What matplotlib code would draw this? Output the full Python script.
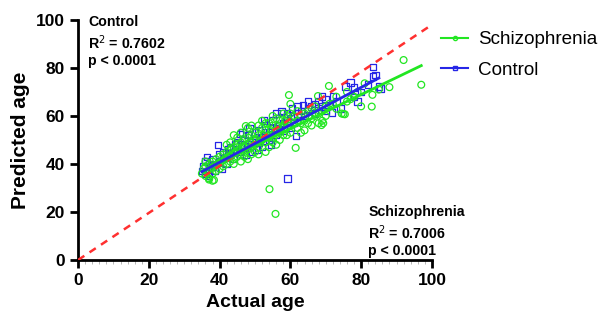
"""
    Predicted vs actual age, scatter with fit lines
"""
import matplotlib.pyplot as plt
import numpy as np

plt.rcParams['font.family'] = ['Liberation Sans', 'DejaVu Sans']

# schizophrenia points (actual, predicted)
scz_x = [35, 35.5, 36, 36, 36.5, 37, 37, 37.5, 38, 38, 38.5, 39, 39, 39.5, 40, 40, 40.5, 41, 41, 41.5,
         42, 42, 42.5, 37, 38, 36, 38.4,
         43, 43, 43.5, 44, 44, 44.5, 45, 45, 45.5, 46, 46, 46.5, 47, 47, 47.5, 48, 48, 48.5, 49, 49,
         49.5, 50, 50, 43, 45, 47, 49, 44, 46, 48, 50, 42, 44, 46, 48, 49, 45, 47, 43, 47.4,
         50.5, 51, 51, 51.5, 52, 52, 52.5, 53, 53, 53.5, 54, 54, 54.5, 55, 55, 55.5, 56, 56, 56.5,
         57, 57, 57.5, 58, 58, 58.5, 59, 59, 59.5, 60, 60, 51, 53, 54, 52, 55, 57, 58, 59, 60, 56,
         53, 55, 51, 54.1, 55.8, 59.6,
         61, 61, 62, 62, 62, 63, 63, 64, 64, 65, 65, 66, 66, 67, 67, 68, 69, 70, 70, 71, 61.5, 63,
         64, 66, 68, 69, 60, 67.8, 68.8, 69.3,
         70.9, 72, 73, 74.5, 75, 75.4, 76, 77, 78, 80, 81, 83, 83.2, 85, 88, 92, 97, 79, 73, 76]
scz_y = [36, 38, 35, 39, 37, 34, 40, 38, 36, 41, 39, 37, 42, 40, 38, 43, 41, 39, 44, 42,
         40, 45, 43, 33.5, 33, 41, 33.3,
         41, 46, 44, 42, 47, 45, 43, 48, 46, 44, 49, 47, 45, 50, 48, 46, 51, 49, 47, 52,
         50, 48, 53, 49, 51, 43, 44, 52, 53, 42, 45, 48, 40, 41, 55, 56, 47, 47, 43, 55.8,
         50, 47, 52, 49, 50, 55, 52, 49, 54, 51, 52, 57, 54, 51, 56, 53, 54, 59, 56,
         53, 58, 55, 56, 61, 58, 55, 60, 57, 56, 61, 44, 45, 47, 58, 60, 50, 52, 52, 53, 48,
         57, 49, 56, 29.5, 19.2, 68.7,
         57, 60, 55, 58, 62, 57, 60, 58, 61, 57, 62, 59, 63, 60, 64, 61, 62, 60, 64, 65, 46.7, 53,
         54, 56, 57, 58, 65, 68.3, 56.2, 57,
         72.5, 65, 63, 61, 60.8, 60.7, 66, 67, 68, 64, 73.6, 63.9, 68.8, 71, 72, 83.3, 73, 70, 68, 70]

# control points (actual, predicted)
ctl_x = [35, 35.5, 36, 36, 37, 37, 38, 38, 39, 39.5, 40, 40, 41, 41, 42, 42, 43, 43, 44, 44, 45, 45,
         45.8, 36.5, 38.5, 40.5, 42.5, 44.5, 37, 35.9,
         46, 46, 47, 47, 48, 48, 49, 49, 50, 50, 51, 51, 52, 52, 53, 53, 54, 54, 55, 55, 46.5, 48.5,
         50.5, 52.5, 54.5, 47.5,
         56.1, 56, 56, 57, 57, 58, 58, 59, 59, 60, 60, 61, 61, 61.6, 62, 62, 63, 63.6, 64, 65, 65,
         59.2, 57.5, 60.5,
         66, 67, 67, 68, 69, 70, 70, 71.8, 72, 73, 74.2, 75.6, 78, 78, 80, 82, 83.3, 83.3, 84, 85.5,
         85, 77, 79, 69]
ctl_y = [37, 39, 41, 36, 38, 40, 39, 42, 40, 47.9, 41, 44, 42, 45, 43, 40, 44, 47, 45, 42, 46, 49,
         52.5, 43, 37, 38, 46, 48, 35, 41.2,
         45, 48, 47, 50, 48, 52, 49, 45, 50, 53, 49, 54, 51, 47, 52, 56, 53, 50, 55, 58, 53, 55,
         46, 58, 48, 44,
         61.1, 55, 52, 56, 59, 57, 54, 58, 61, 59, 55, 60, 57, 51.7, 61, 64, 62, 64.6, 60, 63, 66,
         34, 62, 63,
         64, 65, 61, 66, 64, 67, 62, 61.5, 68, 66, 63.2, 72.2, 71.8, 67.8, 70, 73, 80.3, 76.4, 77, 71.5,
         72.2, 74, 66, 68]

# fit lines (slope, intercept, x range)
scz_fit = (0.71, 12.1, 35, 97)
ctl_fit = (0.78, 9.5, 35, 85)

green = '#22e622'
blue = '#2626e6'

fig = plt.figure(figsize=(6.1, 3.27), dpi=100)
ax = fig.add_axes([0.128, 0.205, 0.580, 0.734])

ax.plot([0, 100], [0, 98], color='#ff3030', linestyle=(0, (3, 2.5)), linewidth=1.8, zorder=4)

ax.scatter(ctl_x, ctl_y, marker='s', s=22, facecolors='none', edgecolors=blue, linewidths=0.9, zorder=2)
ax.scatter(scz_x, scz_y, marker='o', s=24, facecolors='none', edgecolors=green, linewidths=0.9, zorder=3)

fx = np.array(scz_fit[2:])
ax.plot(fx, scz_fit[0] * fx + scz_fit[1], color=green, linewidth=2, zorder=5)
cx = np.array(ctl_fit[2:])
ax.plot(cx, ctl_fit[0] * cx + ctl_fit[1], color=blue, linewidth=2, zorder=6)

ax.set_xlim(0, 100)
ax.set_ylim(0, 100)
ax.set_xticks(np.arange(0, 101, 20))
ax.set_yticks(np.arange(0, 101, 20))
ax.set_xticks(np.arange(0, 101, 2), minor=True)
ax.tick_params(axis='both', which='major', length=6, width=2, labelsize=12.5)
ax.tick_params(axis='x', which='minor', length=3, width=0.6, color='#aaaaaa')
for lab in ax.get_xticklabels() + ax.get_yticklabels():
    lab.set_fontweight('bold')
for side in ['top', 'right']:
    ax.spines[side].set_visible(False)
for side in ['left', 'bottom']:
    ax.spines[side].set_linewidth(2)

ax.set_xlabel('Actual age', fontsize=14, fontweight='bold')
ax.set_ylabel('Predicted age', fontsize=15, fontweight='bold')

ax.text(0.028, 1.02, 'Control\nR$^2$ = 0.7602\np < 0.0001', transform=ax.transAxes,
        fontsize=10.2, fontweight='bold', va='top', ha='left', linespacing=1.25)
ax.text(0.82, 0.228, 'Schizophrenia\nR$^2$ = 0.7006\np < 0.0001', transform=ax.transAxes,
        fontsize=10.2, fontweight='bold', va='top', ha='left', linespacing=1.25)

h1, = ax.plot([], [], color=green, marker='o', markersize=3, linewidth=1.5, mfc='none')
h2, = ax.plot([], [], color=blue, marker='s', markersize=3, linewidth=1.5, mfc='none')
fig.legend([h1, h2], ['Schizophrenia', 'Control'], loc='upper left',
           bbox_to_anchor=(0.705, 0.94), frameon=False, fontsize=13.6,
           handlelength=1.4, handletextpad=0.55, labelspacing=0.72, borderaxespad=0.2)

plt.savefig('out.png')
